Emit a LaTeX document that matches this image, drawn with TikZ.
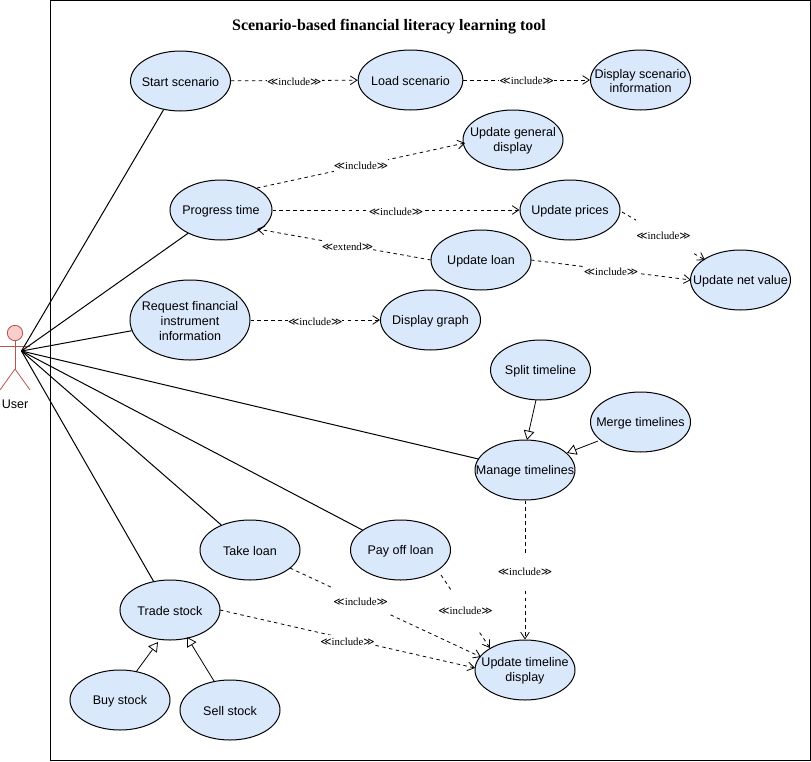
\documentclass[tikz,border=0pt]{standalone}
\usepackage{fontspec}
\setmainfont{Liberation Sans}
\newfontfamily\serifb{Liberation Serif}
\newfontfamily\symfont{DejaVu Sans}
\usetikzlibrary{arrows.meta,shapes.geometric}
\definecolor{ucfill}{HTML}{DAE8FC}
\definecolor{actfill}{HTML}{F8CECC}
\definecolor{actline}{HTML}{B85450}
\newcommand{\gl}{{\symfont ≪}}
\newcommand{\gr}{{\symfont ≫}}
\newcommand{\incl}{\gl include\gr}
\newcommand{\extd}{\gl extend\gr}
\tikzset{
  x=0.75pt,y=-0.75pt,
  uc/.style={draw=black,fill=ucfill,ellipse,line width=0.75pt,minimum width=75pt,minimum height=45pt,inner sep=0pt},
  uct/.style={inner sep=0pt,align=center,yshift=-0.75pt,font=\fontsize{9.4pt}{11.2pt}\selectfont},
  assoc/.style={draw=black,line width=0.75pt},
  dep/.style={draw=black,line width=0.6pt,dash pattern=on 2.6pt off 2.6pt,-{Straight Barb[length=5pt,width=6.5pt]}},
  gen/.style={draw=black,line width=0.6pt,-{Triangle[open,fill=white,length=7pt,width=8pt]}},
  lab/.style={fill=white,inner xsep=0pt,inner ysep=0pt,yshift=-1pt,minimum width=37pt,minimum height=28pt,font=\serifb\fontsize{8.1pt}{9pt}\selectfont},
  labh/.style={lab,minimum height=10pt},
  actor/.style={draw=actline,line width=0.6pt}
}
\begin{document}
\begin{tikzpicture}
\useasboundingbox (0,0) rectangle (811,761);
\draw[line width=0.75pt] (50.5,0) rectangle (810.5,760.5);
\node[font=\serifb\bfseries\fontsize{12pt}{14pt}\selectfont] (title) at (389,27) {Scenario-based financial literacy learning tool};
% actor
\node[draw=actline,fill=actfill,circle,minimum size=11.5pt,inner sep=0pt,line width=0.6pt] (head) at (15,333) {};
\coordinate (hip) at (15,369);
\coordinate (hand) at (21.5,351);
\coordinate (al) at (0,346);
\coordinate (ar) at (30,346);
\coordinate (fl) at (0,390);
\coordinate (fr) at (30,390);
\draw[actor] (head.south) -- (hip);
\draw[actor] (al) -- (ar);
\draw[actor] (hip) -- (fl);
\draw[actor] (hip) -- (fr);
\node[font=\fontsize{9.4pt}{11pt}\selectfont] (user) at (15,404) {User};
% use cases
\node[uc,label={[uct]center:Start scenario}] (start) at (180.5,81) {};
\node[uc,minimum width=78.5pt,label={[uct]center:Load scenario}] (load) at (410.5,80) {};
\node[uc,label={[uct]center:{Display scenario\\information}}] (disp) at (640.5,80) {};
\node[uc,label={[uct]center:{Update general\\display}}] (gen) at (513,140) {};
\node[uc,minimum width=76.5pt,label={[uct]center:Progress time}] (prog) at (221,210) {};
\node[uc,label={[uct]center:Update prices}] (prices) at (570,210) {};
\node[uc,label={[uct]center:Update loan}] (loan) at (481,260) {};
\node[uc,label={[uct]center:Update net value}] (net) at (740.5,280) {};
\node[uc,minimum width=90pt,minimum height=60pt,label={[uct]center:{Request financial\\instrument\\information}}] (req) at (190,320) {};
\node[uc,label={[uct]center:Display graph}] (graph) at (430.5,320) {};
\node[uc,label={[uct]center:Split timeline}] (split) at (540.5,370) {};
\node[uc,label={[uct]center:Merge timelines}] (merge) at (640.5,422) {};
\node[uc,label={[uct]center:Manage timelines}] (manage) at (525,470) {};
\node[uc,label={[uct]center:Take loan}] (take) at (250,550) {};
\node[uc,label={[uct]center:Pay off loan}] (pay) at (400.5,550) {};
\node[uc,label={[uct]center:Trade stock}] (trade) at (170,610) {};
\node[uc,label={[uct]center:{Update timeline\\display}}] (upd) at (525,670) {};
\node[uc,label={[uct]center:Buy stock}] (buy) at (120,700) {};
\node[uc,label={[uct]center:Sell stock}] (sell) at (230,710) {};
% associations
\foreach \t in {start,prog,req,manage,pay,take,trade}
  \draw[assoc] (hand) -- (\t);
% free connector ends on the ellipse borders
\coordinate (a1) at (257,188);
\coordinate (b1) at (465,143);
\coordinate (a2) at (622,212);
\coordinate (b2) at (705,260);
\coordinate (a3) at (531,260);
\coordinate (b3) at (691,280);
\coordinate (a4) at (431,260);
\coordinate (b4) at (257,229);
\coordinate (a5) at (290,568);
\coordinate (b5) at (481,657);
\coordinate (a6) at (441,575);
\coordinate (b6) at (490,648);
\coordinate (a7) at (220,610);
\coordinate (b7) at (475,668);
% includes
\draw[dep] (start) -- node[labh,yshift=0.3pt]{\incl} (load);
\draw[dep] (load) -- node[labh,yshift=0.3pt]{\incl} (disp);
\draw[dep] (a1) -- node[labh,yshift=1pt]{\incl} (b1);
\draw[dep] (prog) -- node[labh]{\incl} (prices);
\draw[dep] (a2) -- node[lab,yshift=1pt]{\incl} (b2);
\draw[dep] (a3) -- node[labh]{\incl} (b3);
\draw[dep] (a4) -- node[labh,pos=0.48]{\extd} (b4);
\draw[dep] (req) -- node[labh]{\incl} (graph);
\draw[dep] (manage) -- node[lab]{\incl} (upd);
\draw[dep] (a5) -- node[lab,pos=0.37]{\incl} (b5);
\draw[dep] (a6) -- node[lab,yshift=1.5pt]{\incl} (b6);
\draw[dep] (a7) -- node[labh,yshift=-1pt]{\incl} (b7);
% generalisations
\coordinate (g1) at (536,400);
\coordinate (h1) at (527,440);
\coordinate (g2) at (598,441);
\coordinate (h2) at (567,453);
\coordinate (g3) at (136,672);
\coordinate (h3) at (158,642);
\coordinate (g4) at (214,681);
\coordinate (h4) at (187,637);
\draw[gen] (g1) -- (h1);
\draw[gen] (g2) -- (h2);
\draw[gen] (g3) -- (h3);
\draw[gen] (g4) -- (h4);
\end{tikzpicture}
\end{document}
